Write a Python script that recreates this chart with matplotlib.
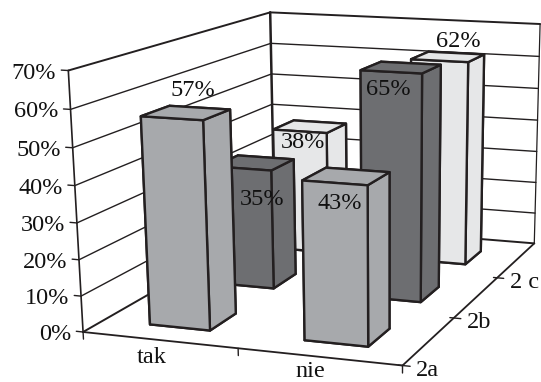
import numpy as np
import matplotlib
matplotlib.use('Agg')
import matplotlib.pyplot as plt

plt.rcParams['font.family'] = ['Liberation Serif', 'DejaVu Serif']

categories = ['tak', 'nie']
series = ['2a', '2b', '2 c']
values_2a = [57, 43]
values_2b = [35, 65]
values_2c = [38, 62]
z_ticks = [0, 10, 20, 30, 40, 50, 60, 70]

series_values = [values_2a, values_2b, values_2c]
series_colors = ['#a7a9ac', '#6d6e71', '#e6e7e8']
edge = '#231f20'
text_color = '#111111'
font_size = 17.5

n_cat = len(categories)
n_ser = len(series)
z_top = z_ticks[-1]
bar_w = 0.395
bar_d = 0.385
bar_cx = 0.503
bar_cy = 0.465

# box corners and where they land on the canvas, used to solve the camera
box_xyz = [(0, 0, 0), (n_cat, 0, 0), (n_cat, n_ser, 0), (0, n_ser, 0),
           (0, 0, z_top), (0, n_ser, z_top), (n_cat, n_ser, z_top)]
box_px = [(81, 331), (403, 366), (533, 243), (277, 223),
          (70, 71), (268, 12), (541, 24)]


def solve_camera(world, image):
    rows = []
    for (x, y, z), (u, v) in zip(world, image):
        rows.append([x, y, z, 1, 0, 0, 0, 0, -u*x, -u*y, -u*z, -u])
        rows.append([0, 0, 0, 0, x, y, z, 1, -v*x, -v*y, -v*z, -v])
    p = np.linalg.svd(np.array(rows, dtype=float))[2][-1].reshape(3, 4)
    if p[2] @ np.array([0, 0, 0, 1.0]) < 0:
        p = -p
    return p


cam = solve_camera(box_xyz, box_px)
cam = cam / cam[2, 3]
# third row only drives the depth sort: further away sorts as larger
proj_m = np.array([cam[0], cam[1], [0, 0, 0, -1.0], cam[2]])


def to_px(x, y, z):
    a = cam @ np.array([x, y, z, 1.0])
    return a[0] / a[2], a[1] / a[2]


fig = plt.figure(figsize=(5.41, 3.82), dpi=100)
ax = fig.add_axes([0, 0, 1, 1], projection='3d', computed_zorder=False)
ax.set_proj_type('ortho')  # stops Line3D clipping to the unit cube
ax.get_proj = lambda: proj_m
ax.apply_aspect = lambda position=None: None
ax.set_axis_off()
ax.viewLim.intervalx = (0, 541)
ax.viewLim.intervaly = (382, 0)


def line3(xs, ys, zs, lw=1.0, zorder=1):
    ax.plot(xs, ys, zs, color=edge, lw=lw, zorder=zorder, solid_capstyle='round')


# walls
for z in z_ticks:
    lw = 1.4 if z in (0, z_top) else 1.0
    line3([0, 0], [0, n_ser], [z, z], lw=lw)
    line3([0, n_cat], [n_ser, n_ser], [z, z], lw=lw)
    line3([0, -0.045], [0, 0], [z, z], lw=1.0)
line3([0, 0], [0, 0], [0, z_top], lw=1.2)
line3([0, 0], [n_ser, n_ser], [0, z_top], lw=1.8)
line3([n_cat, n_cat], [n_ser, n_ser], [0, z_top], lw=0.9)

# floor edges and ticks
line3([0, n_cat], [0, 0], [0, 0], lw=1.3, zorder=30)
line3([n_cat, n_cat], [0, n_ser], [0, 0], lw=1.3, zorder=30)
for i in range(n_cat + 1):
    line3([i, i], [0, 0], [0, -2.0], lw=1.0, zorder=30)
for j in range(n_ser):
    line3([n_cat - 0.025, n_cat + 0.045], [j, j], [0, 0], lw=1.0, zorder=30)

# bars, back row first
z_order = 2
for j in range(n_ser - 1, -1, -1):
    for i in range(n_cat):
        ax.bar3d(i + bar_cx - bar_w / 2, j + bar_cy - bar_d / 2, 0,
                 bar_w, bar_d, series_values[j][i],
                 color=series_colors[j], edgecolor=edge, linewidth=1.7,
                 shade=False, zorder=z_order)
        z_order += 1

# data labels sit near the bar top, each nudged by hand (px)
label_nudge = {(0, 0): (7, -22), (1, 0): (-7, 27), (0, 1): (8, 37), (1, 1): (-13, 22),
               (0, 2): (-7, 16), (1, 2): (10, -15)}
for j in range(n_ser):
    for i in range(n_cat):
        v = series_values[j][i]
        px, py = to_px(i + bar_cx, j + bar_cy, v)
        dx, dy = label_nudge[(i, j)]
        ax.text2D(px + dx, py + dy, f'{v}%', transform=ax.transData, fontsize=font_size,
                  ha='center', va='center', color=text_color, zorder=40)

for z in z_ticks:
    px, py = to_px(-0.045, 0, z)
    ax.text2D(px - 5, py + 3, f'{z}%', transform=ax.transData, fontsize=font_size,
              ha='right', va='center', color=text_color)

category_nudge = [(-8, 17), (-9, 15)]
for i, name in enumerate(categories):
    px, py = to_px(i + 0.5, 0, 0)
    dx, dy = category_nudge[i]
    ax.text2D(px + dx, py + dy, name, transform=ax.transData,
              fontsize=font_size, ha='center', va='center', color=text_color)

for j, name in enumerate(series):
    px, py = to_px(n_cat + 0.045, j, 0)
    ax.text2D(px + 6, py + 4, name, transform=ax.transData, fontsize=font_size,
              ha='left', va='center', color=text_color)

fig.savefig('out.png', dpi=100, facecolor='white')
